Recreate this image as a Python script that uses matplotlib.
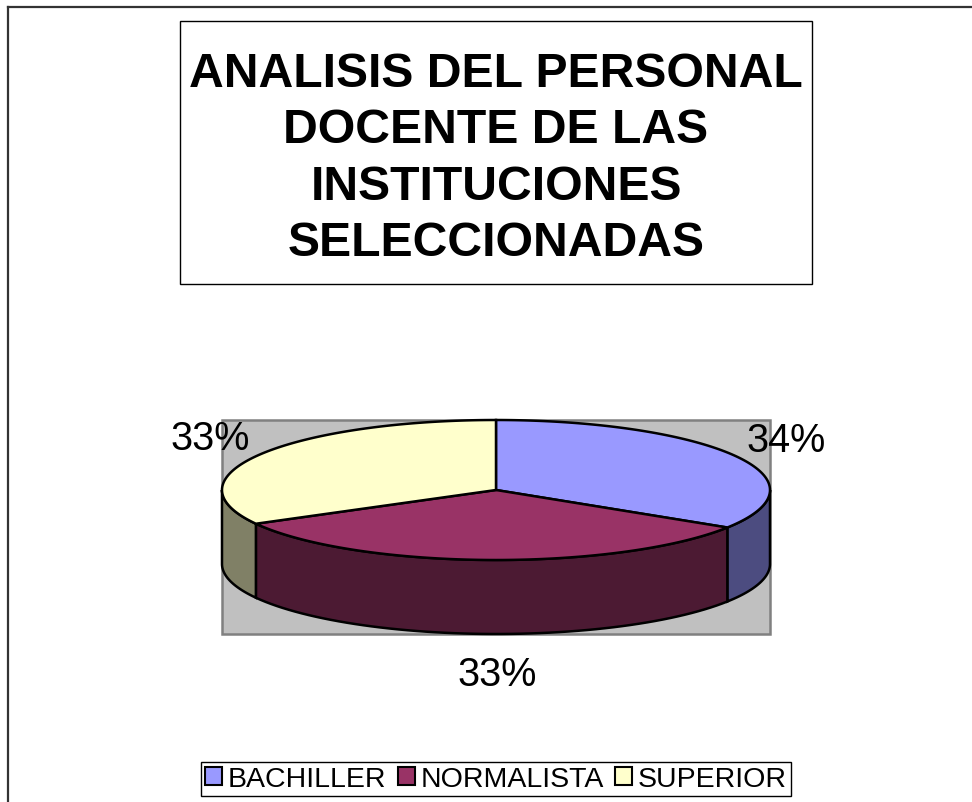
import numpy as np
import matplotlib
matplotlib.use("Agg")
import matplotlib.pyplot as plt
from matplotlib.patches import Polygon, Rectangle

# datos del grafico
categorias = ["BACHILLER", "NORMALISTA", "SUPERIOR"]
valores = [34, 33, 33]
colores = ["#9999FF", "#993366", "#FFFFCC"]
colores_lado = ["#4C4C80", "#4C1A33", "#808066"]
titulo = "ANALISIS DEL PERSONAL\nDOCENTE DE LAS\nINSTITUCIONES\nSELECCIONADAS"

plt.rcParams['font.family'] = ['Liberation Sans', 'DejaVu Sans']


# punto sobre la elipse (angulo en grados, coordenadas en pixeles)
def punto(cx, cy, rx, ry, ang, dy=0):
    t = np.radians(ang)
    return np.column_stack([cx + rx * np.cos(t), cy - ry * np.sin(t) + dy])


def pie_3d(ax, vals, cols, cols_side, cx, cy, rx, ry, depth):
    total = float(sum(vals))
    angs = 90 - np.cumsum([0] + list(vals)) / total * 360
    # fondo gris del area de trazado
    ax.add_patch(Rectangle((cx - rx, cy - ry), 2 * rx, 2 * ry + depth,
                           facecolor="#C0C0C0", edgecolor="#808080", lw=1.8, zorder=1))
    # caras laterales (solo la mitad delantera, angulos entre 180 y 360)
    for i in range(len(vals)):
        a1, a2 = angs[i], angs[i + 1]
        for k in (-360, 0):
            lo = max(a2, 180 + k)
            hi = min(a1, 360 + k)
            if hi - lo <= 0:
                continue
            t = np.linspace(hi, lo, 60)
            top = punto(cx, cy, rx, ry, t)
            bot = punto(cx, cy, rx, ry, t[::-1], depth)
            ax.add_patch(Polygon(np.vstack([top, bot]), closed=True, facecolor=cols_side[i],
                                 edgecolor="black", lw=1.8, zorder=2))
    # caras superiores
    for i in range(len(vals)):
        t = np.linspace(angs[i], angs[i + 1], 100)
        pts = np.vstack([[cx, cy], punto(cx, cy, rx, ry, t)])
        ax.add_patch(Polygon(pts, closed=True, facecolor=cols[i],
                             edgecolor="black", lw=1.8, zorder=3))
    # etiquetas de porcentaje
    for i in range(len(vals)):
        m = np.radians((angs[i] + angs[i + 1]) / 2)
        pct = "%d%%" % round(vals[i] / total * 100)
        if np.sin(m) > 0:
            x = cx + rx * np.cos(m) + np.sign(np.cos(m)) * 50
            y = cy - ry * np.sin(m) - 16
        else:
            x = cx + rx * np.cos(m) + 10
            y = cy - ry * np.sin(m) + depth + 40
        ax.text(x, y, pct, fontsize=28.5, ha="center", va="center", zorder=5)


def main():
    fig = plt.figure(figsize=(9.72, 8.03), dpi=100)
    ax = fig.add_axes([0, 0, 1, 1])
    ax.set_xlim(0, 972)
    ax.set_ylim(803, 0)
    ax.axis("off")

    # marco exterior (solo se ven los bordes superior e izquierdo)
    ax.plot([7.5, 980], [7.5, 7.5], color="#333333", lw=1.6)
    ax.plot([7.5, 7.5], [7.5, 810], color="#333333", lw=1.6)

    # titulo en recuadro
    ax.add_patch(Rectangle((180, 22), 632, 263, facecolor="white", edgecolor="black", lw=1))
    ax.text(496, 159, titulo, fontsize=34.7, fontweight="bold", ha="center", va="center",
            linespacing=1.33)

    pie_3d(ax, valores, colores, colores_lado, 496, 491, 274, 70, 74)

    # leyenda
    handles = [Rectangle((0, 0), 1, 1, facecolor=c, edgecolor="black", lw=1.5) for c in colores]
    leg = fig.legend(handles, categorias, loc="center", bbox_to_anchor=(496 / 972, 1 - 780 / 803),
                     ncol=3, fontsize=20.5, handlelength=0.6, handleheight=0.6,
                     handletextpad=0.2, columnspacing=0.4, borderpad=0.15,
                     fancybox=False, framealpha=1)
    leg.get_frame().set_edgecolor("black")
    leg.get_frame().set_linewidth(1)

    plt.savefig("out.png", dpi=100)


if __name__ == "__main__":
    main()
